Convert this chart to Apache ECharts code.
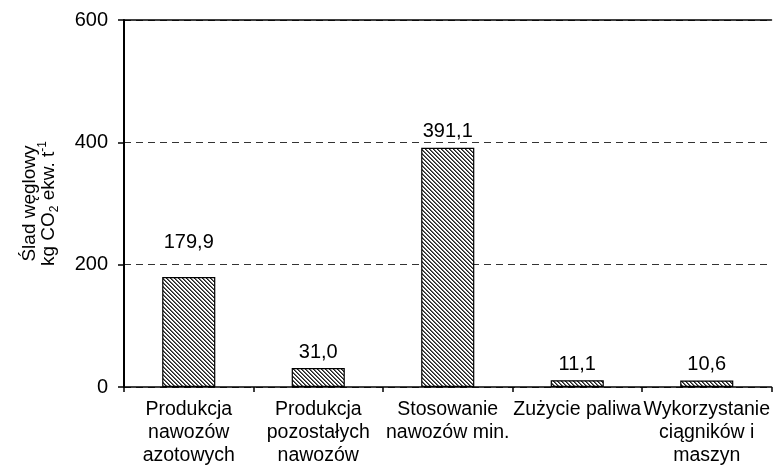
<!DOCTYPE html>
<html>
<head>
<meta charset="utf-8">
<script src="https://cdn.jsdelivr.net/npm/echarts@6/dist/echarts.min.js"></script>
<style>
html,body{margin:0;padding:0;background:#fff;}
#chart{width:773px;height:468px;}
</style>
</head>
<body>
<div id="chart"></div>
<script>
var categories = [
  'Produkcja\nnawozów\nazotowych',
  'Produkcja\npozostałych\nnawozów',
  'Stosowanie\nnawozów min.',
  'Zużycie paliwa',
  'Wykorzystanie\nciągników i\nmaszyn'
];
var values = [179.9, 31.0, 391.1, 11.1, 10.6];
var yMin = 0, yMax = 600, yInterval = 200;
var labelDistances = [24, 6, 6, 6, 6];

function makeHatch() {
  var c = document.createElement('canvas');
  c.width = 4; c.height = 4;
  var ctx = c.getContext('2d');
  ctx.fillStyle = '#ffffff';
  ctx.fillRect(0, 0, 4, 4);
  for (var y = 0; y < 4; y++) {
    for (var x = 0; x < 4; x++) {
      var d = ((x - y) % 4 + 4) % 4;
      if (d === 0) { ctx.fillStyle = '#222222'; ctx.fillRect(x, y, 1, 1); }
      else if (d === 1) { ctx.fillStyle = '#6a6a6a'; ctx.fillRect(x, y, 1, 1); }
    }
  }
  return c;
}
var hatch = makeHatch();

var font = 'Liberation Sans, Arial, sans-serif';
var chart = echarts.init(document.getElementById('chart'));
chart.setOption({
  animation: false,
  backgroundColor: '#ffffff',
  grid: {left: 124, right: 1, top: 20, bottom: 81, containLabel: false},
  xAxis: [{
    type: 'category',
    data: categories,
    boundaryGap: true,
    axisLine: {lineStyle: {color: '#000', width: 1.5}},
    axisTick: {show: true, length: 5, lineStyle: {color: '#000', width: 1.5}},
    axisLabel: {interval: 0, color: '#000', fontFamily: font, fontSize: 19.5, lineHeight: 23, margin: 11}
  }, {
    type: 'category',
    data: categories,
    position: 'top',
    axisLine: {show: true, lineStyle: {color: '#000', width: 1.5}},
    axisTick: {show: false},
    axisLabel: {show: false}
  }],
  yAxis: {
    type: 'value',
    min: yMin, max: yMax, interval: yInterval,
    axisLine: {show: true, lineStyle: {color: '#000', width: 2}},
    axisTick: {show: true, length: 6, lineStyle: {color: '#000', width: 1.5}},
    axisLabel: {color: '#000', fontFamily: font, fontSize: 20, margin: 16},
    splitLine: {show: true, lineStyle: {color: '#333', type: [7, 5], width: 1.2}},
    name: '{a|Ślad węglowy}\n{a|kg CO}{sub|2}{a| ekw. t}{sup|-1}',
    nameLocation: 'middle',
    nameRotate: 90,
    nameGap: 66,
    nameTextStyle: {
      color: '#000', fontFamily: font, fontSize: 19, lineHeight: 19,
      rich: {
        a: {color: '#000', fontFamily: font, fontSize: 19, lineHeight: 19},
        sub: {color: '#000', fontFamily: font, fontSize: 12, lineHeight: 19, verticalAlign: 'bottom', padding: [0, 0, -3, 0]},
        sup: {color: '#000', fontFamily: font, fontSize: 12, lineHeight: 19, verticalAlign: 'top', padding: [-2, 0, 0, 0]}
      }
    }
  },
  series: [{
    type: 'bar',
    barWidth: '41%',
    data: values.map(function (v, i) {
      return {value: v, label: {distance: labelDistances[i]}};
    }),
    itemStyle: {color: {image: hatch, repeat: 'repeat'}, borderColor: '#000', borderWidth: 1.2},
    label: {
      show: true, position: 'top', color: '#000', fontFamily: font, fontSize: 20,
      formatter: function (p) { return p.value.toFixed(1).replace('.', ','); }
    }
  }]
});
</script>
</body>
</html>
